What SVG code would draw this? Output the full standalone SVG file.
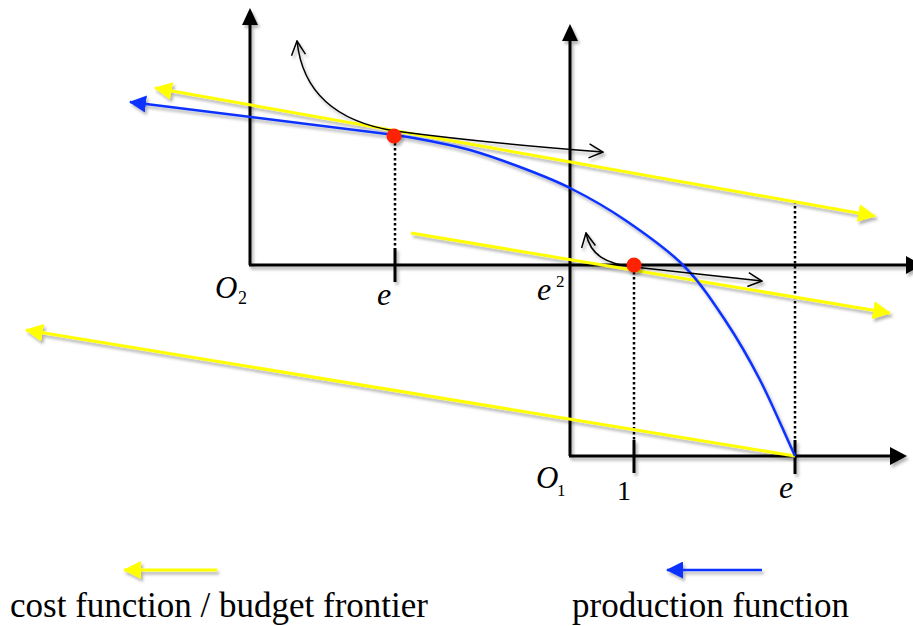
<svg xmlns="http://www.w3.org/2000/svg" width="913" height="626" viewBox="0 0 913 626">
<style>
.ax{stroke:#000;stroke-width:3;fill:none}
.tk{stroke:#000;stroke-width:3;fill:none}
.dot{stroke:#000;stroke-width:2.5;stroke-dasharray:2.5 2.5;fill:none}
.yl{stroke:#ffff00;stroke-width:3;fill:none}
.bl{stroke:#0a32ff;stroke-width:2.5;fill:none}
.th{stroke:#000;stroke-width:1.5;fill:none}
.ah{fill:#000}
.pt{fill:#ff2200}
.it{font-family:"Liberation Serif",serif;font-style:italic;fill:#000}
.rm{font-family:"Liberation Serif",serif;fill:#000}
</style>
<defs>
<filter id="sh" filterUnits="userSpaceOnUse" x="0" y="0" width="913" height="626">
<feDropShadow dx="2" dy="3" stdDeviation="1.8" flood-color="#000" flood-opacity="0.3"/>
</filter>
<marker id="ya" viewBox="0 0 18 18" refX="17" refY="9" markerWidth="18" markerHeight="18" markerUnits="userSpaceOnUse" orient="auto-start-reverse">
<path d="M0,0 L18,9 L0,18 z" fill="#ffff00"/>
</marker>
<marker id="ba" viewBox="0 0 17 17" refX="16" refY="8.5" markerWidth="17" markerHeight="17" markerUnits="userSpaceOnUse" orient="auto-start-reverse">
<path d="M0,0 L17,8.5 L0,17 z" fill="#0a32ff"/>
</marker>
<marker id="oa" viewBox="0 0 16 16" refX="15" refY="8" markerWidth="16" markerHeight="16" markerUnits="userSpaceOnUse" orient="auto-start-reverse">
<path d="M1,1 L15,8 L1,15" fill="none" stroke="#000" stroke-width="1.5"/>
</marker>
</defs>
<rect width="913" height="626" fill="#fff"/>

<g id="axes" filter="url(#sh)">
<path class="ax" d="M250,265 L250,24"/>
<polygon class="ah" points="242,25 258,25 250,8"/>
<path class="ax" d="M249,265 L907,265"/>
<polygon class="ah" points="906,256 906,274 922,265"/>
<path class="ax" d="M570,456 L570,40"/>
<polygon class="ah" points="562,41 578,41 570,24"/>
<path class="ax" d="M569,456 L891,456"/>
<polygon class="ah" points="890,447 890,465 907,456"/>
<path class="tk" d="M395,248 L395,282"/>
<path class="tk" d="M634,440 L634,473"/>
<path class="tk" d="M795,440 L795,474"/>
</g>

<g id="dotted-lines">
<path class="dot" d="M395,143 L395,248"/>
<path class="dot" d="M634,272 L634,440"/>
<path class="dot" d="M795,201 L795,440"/>
</g>

<g id="connectors" filter="url(#sh)">
<path class="yl" d="M155,88 L875,216" marker-start="url(#ya)" marker-end="url(#ya)"/>
<path class="yl" d="M411,233 L890,313" marker-end="url(#ya)"/>
<path class="yl" d="M795,456 L26,330" marker-end="url(#ya)"/>
<path class="bl" d="M130,102 L395,135 C406.7,136.7 417.5,138.5 430,141 C442.5,143.5 455,145.7 470,150 C485,154.3 503.3,160.7 520,167 C536.7,173.3 552.5,179.2 570,188 C587.5,196.8 606.2,207.2 625,220 C643.8,232.8 666.3,248.3 683,265 C699.7,281.7 712.2,300.8 725,320 C737.8,339.2 748.3,357.3 760,380 C771.7,402.7 783.3,430.7 795,456" marker-start="url(#ba)"/>
<path class="th" d="M297,41 C302,88 332,121 395,131 C455,139 525,146 603,152" marker-start="url(#oa)" marker-end="url(#oa)"/>
<path class="th" d="M586,233 C590,255 606,264 634,267 L762,281" marker-start="url(#oa)" marker-end="url(#oa)"/>
</g>

<g id="points" filter="url(#sh)">
<circle class="pt" cx="394" cy="136" r="7.5"/>
<circle class="pt" cx="634" cy="265" r="7.5"/>
</g>

<g id="labels">
<text class="it" x="215" y="298" font-size="31">O</text>
<text class="rm" x="238" y="304" font-size="18">2</text>
<text class="it" x="377" y="305" font-size="32">e</text>
<text class="it" x="537" y="300" font-size="32">e</text>
<text class="rm" x="556" y="287" font-size="17">2</text>
<text class="it" x="536" y="488" font-size="31">O</text>
<text class="rm" x="557" y="496" font-size="17">1</text>
<text class="rm" x="617" y="500" font-size="28">1</text>
<text class="it" x="779" y="498" font-size="32">e</text>
</g>

<g id="legend">
<g id="legend-cost">
<path class="yl" d="M217,570 L124,570" marker-end="url(#ya)" filter="url(#sh)"/>
<text class="rm" x="10" y="617" font-size="35">cost function / budget frontier</text>
</g>
<g id="legend-production">
<path class="bl" d="M762,570 L667,570" marker-end="url(#ba)" filter="url(#sh)"/>
<text class="rm" x="572" y="617" font-size="35">production function</text>
</g>
</g>
</svg>
